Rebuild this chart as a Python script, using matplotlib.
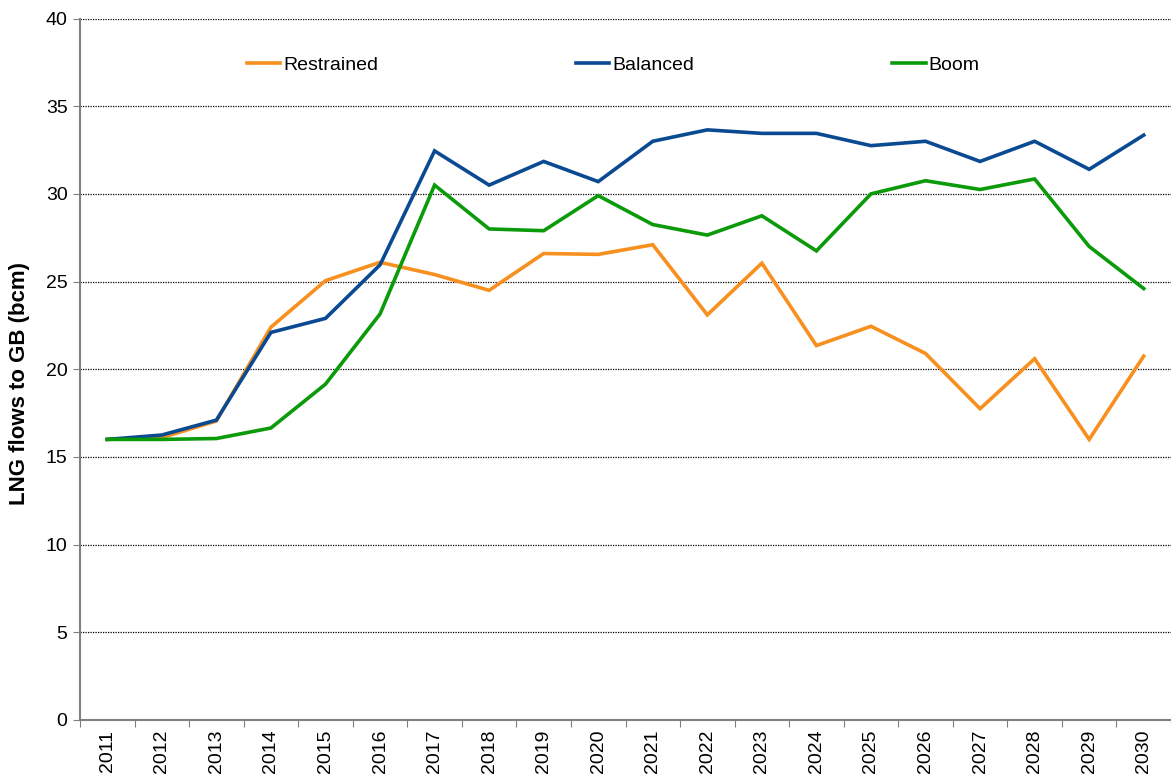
import matplotlib
matplotlib.use("Agg")
import matplotlib.pyplot as plt
from matplotlib.ticker import FixedLocator, NullFormatter

plt.rcParams['font.family'] = ['Liberation Sans', 'DejaVu Sans']

years = [str(y) for y in range(2011, 2031)]
restrained = [16.0, 16.1, 17.05, 22.4, 25.05, 26.1, 25.4, 24.5, 26.6, 26.55,
              27.1, 23.1, 26.05, 21.35, 22.45, 20.9, 17.75, 20.6, 16.0, 20.75]
balanced = [16.0, 16.25, 17.1, 22.1, 22.9, 25.95, 32.45, 30.5, 31.85, 30.7,
            33.0, 33.65, 33.45, 33.45, 32.75, 33.0, 31.85, 33.0, 31.4, 33.35]
boom = [16.0, 16.0, 16.05, 16.65, 19.15, 23.15, 30.5, 28.0, 27.9, 29.9,
        28.25, 27.65, 28.75, 26.75, 30.0, 30.75, 30.25, 30.85, 27.0, 24.6]
series_names = ["Restrained", "Balanced", "Boom"]
colors = ["#F7901E", "#0A4A92", "#0A9A0A"]
ylabel = "LNG flows to GB (bcm)"

fig = plt.figure(figsize=(11.71, 7.78), dpi=100)
ax = fig.add_axes([80/1171, 1-720/778, 1-80/1171, (720-18.5)/778])

xs = [i + 0.5 for i in range(len(years))]
handles = []
for name, vals, c in zip(series_names, [restrained, balanced, boom], colors):
    h, = ax.plot(xs, vals, color=c, lw=2.6, label=name, solid_joinstyle='miter')
    handles.append(h)

ax.set_xlim(0, len(years))
ax.set_ylim(0, 40)
ax.set_yticks(range(0, 41, 5))
ax.xaxis.set_major_locator(FixedLocator(range(0, len(years) + 1)))
ax.xaxis.set_major_formatter(NullFormatter())
ax.xaxis.set_minor_locator(FixedLocator(xs))
ax.set_xticklabels(years, minor=True, rotation=90)
ax.tick_params(axis='x', which='minor', length=0, labelsize=14, pad=7)
ax.tick_params(axis='x', which='major', length=5, color='#808080', direction='out')
ax.tick_params(axis='y', length=5, color='#808080', direction='out', labelsize=14, pad=4)

for s in ['top', 'right']:
    ax.spines[s].set_visible(False)
for s in ['left', 'bottom']:
    ax.spines[s].set_color('#808080')
    ax.spines[s].set_linewidth(1.5)

ax.yaxis.grid(True, linestyle=(0, (1, 1)), color='black', linewidth=0.9)
ax.set_axisbelow(True)
ax.set_ylabel(ylabel, fontsize=16, fontweight='bold')
ax.yaxis.set_label_coords((30 - 80) / 1091, 0.48)

leg = ax.legend(handles=handles, ncol=3, loc='center left',
                bbox_to_anchor=((247 - 80) / 1091, (720 - 65) / 701.5),
                frameon=False, fontsize=14, borderpad=0, borderaxespad=0,
                handlelength=1.7, handletextpad=0.15, columnspacing=10.2)

fig.savefig("out.png", dpi=100)
